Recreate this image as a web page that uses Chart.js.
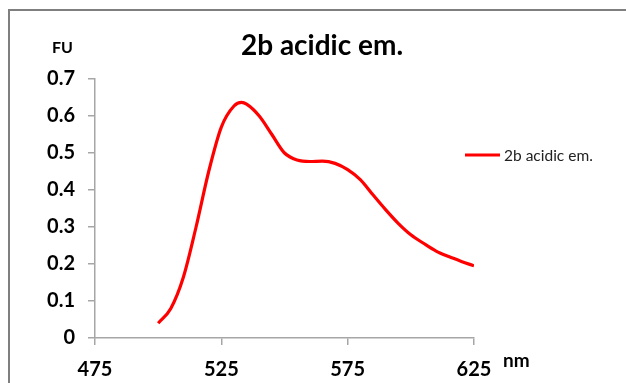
<!DOCTYPE html>
<html>
<head>
<meta charset="utf-8">
<script src="https://cdn.jsdelivr.net/npm/chart.js@4.4.1/dist/chart.umd.min.js"></script>
<style>
  html, body { margin: 0; padding: 0; background: #fff; }
  #wrap { width: 626px; height: 383px; position: relative; }
</style>
</head>
<body>
<div id="wrap"><canvas id="myChartEmisi"></canvas></div>
<script>
// emission spectrum, wavelength (nm) vs. fluorescence units
const panjangGelombang = [500, 505, 510, 515, 520, 525, 530, 533, 535, 540, 545, 550, 555, 560, 565, 570, 575, 580, 585, 590, 595, 600, 605, 610, 615, 620, 625]
const intensitas = [0.04, 0.08, 0.165, 0.30, 0.45, 0.57, 0.627, 0.637, 0.632, 0.60, 0.55, 0.50, 0.481, 0.477, 0.478, 0.472, 0.455, 0.428, 0.387, 0.347, 0.31, 0.279, 0.256, 0.235, 0.22, 0.207, 0.195]
const xTicks = [475, 525, 575, 625]
const yTicks = [0, 0.1, 0.2, 0.3, 0.4, 0.5, 0.6, 0.7]

const judul = '2b acidic em.'
const labelSeri = '2b acidic em.'
const satuanY = 'FU'
const satuanX = 'nm'

const warnaGaris = '#ff0000'
const warnaSumbu = '#a6a6a6'
const fontFamily = 'Lato, "Open Sans", sans-serif'

const ctxEmisi = document.getElementById('myChartEmisi')

// title, unit labels, legend and frame are drawn by hand
const teksTambahan = {
  id: 'teksTambahan',
  afterDraw(chart) {
    const c = chart.ctx
    c.save()

    // frame around the figure
    c.strokeStyle = '#7f7f7f'
    c.lineWidth = 2
    c.beginPath()
    c.moveTo(9, 390)
    c.lineTo(9, 10)
    c.lineTo(630, 10)
    c.stroke()

    c.fillStyle = '#000'
    c.textBaseline = 'alphabetic'

    c.font = 'bold 28px ' + fontFamily
    c.textAlign = 'center'
    c.fillText(judul, 322, 55)

    c.font = 'bold 16px ' + fontFamily
    c.textAlign = 'left'
    c.fillText(satuanY, 52, 53)
    c.font = 'bold 19px ' + fontFamily
    c.fillText(satuanX, 503, 367)

    // legend entry
    const ds = chart.data.datasets[0]
    c.strokeStyle = ds.borderColor
    c.lineWidth = 3
    c.beginPath()
    c.moveTo(465, 155)
    c.lineTo(500, 155)
    c.stroke()
    c.fillStyle = '#222'
    c.font = '15.5px ' + fontFamily
    c.textBaseline = 'middle'
    c.fillText(ds.label, 504, 156)

    c.restore()
  }
}

new Chart(ctxEmisi, {
  type: 'line',
  data: {
    datasets: [{
      label: labelSeri,
      data: panjangGelombang.map((x, i) => ({ x: x, y: intensitas[i] })),
      borderColor: warnaGaris,
      borderWidth: 3.2,
      pointRadius: 0,
      cubicInterpolationMode: 'monotone',
      fill: false
    }]
  },
  options: {
    responsive: true,
    maintainAspectRatio: false,
    animation: false,
    layout: {
      padding: { left: 0, top: 79, right: 152, bottom: 0 }
    },
    plugins: {
      legend: { display: false },
      title: { display: false },
      tooltip: { enabled: false }
    },
    scales: {
      x: {
        type: 'linear',
        min: 475,
        max: 625,
        afterFit: (s) => { s.height = 45 },
        afterBuildTicks: (s) => { s.ticks = xTicks.map(v => ({ value: v })) },
        ticks: {
          color: '#000',
          padding: 13,
          font: { family: fontFamily, size: 20, weight: 'bold' }
        },
        grid: { drawOnChartArea: false, tickLength: 7, color: warnaSumbu, lineWidth: 1.5 },
        border: { color: warnaSumbu, width: 1.5 }
      },
      y: {
        min: 0,
        max: 0.7,
        afterFit: (s) => { s.width = 95 },
        afterBuildTicks: (s) => { s.ticks = yTicks.map(v => ({ value: v })) },
        ticks: {
          color: '#000',
          padding: 13,
          font: { family: fontFamily, size: 20, weight: 'bold' },
          callback: (v) => String(v)
        },
        grid: { drawOnChartArea: false, tickLength: 7, color: warnaSumbu, lineWidth: 1.5 },
        border: { color: warnaSumbu, width: 1.5 }
      }
    }
  },
  plugins: [teksTambahan]
})
</script>
</body>
</html>
